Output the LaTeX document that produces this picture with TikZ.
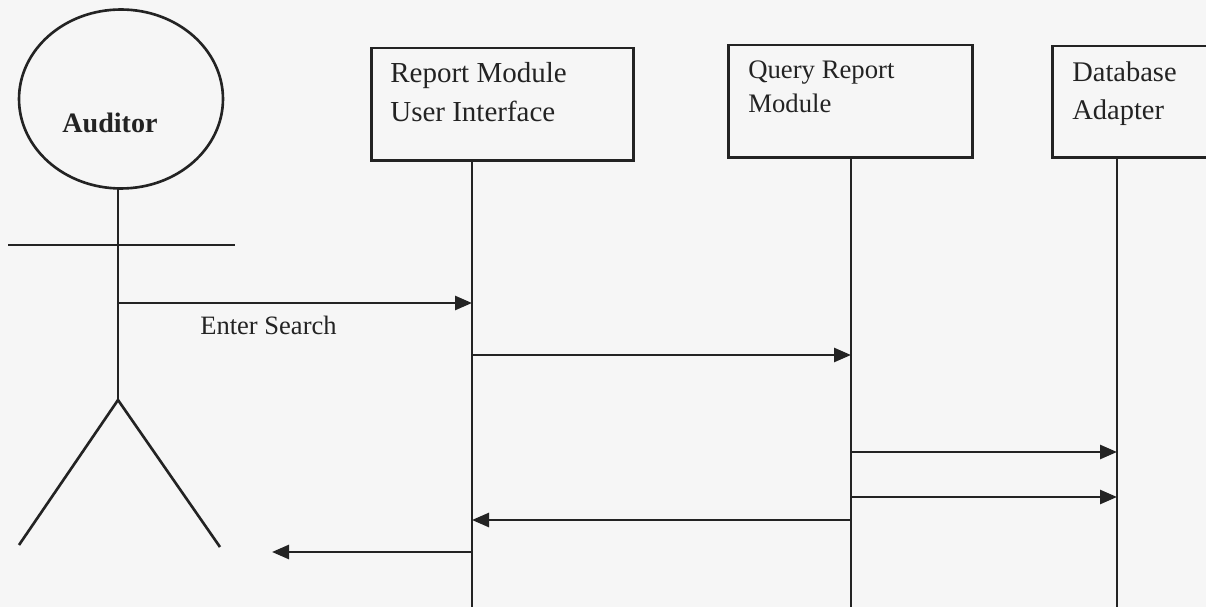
\documentclass[tikz,border=0pt]{standalone}
\usepackage{fontspec}
\setmainfont{Liberation Serif}
\usetikzlibrary{arrows.meta,shapes.geometric}
\definecolor{bg}{RGB}{246,246,246}
\definecolor{ink}{RGB}{35,35,35}
\begin{document}
\begin{tikzpicture}[x=0.02cm,y=-0.02cm,
  line/.style={draw=ink,line width=1.5pt},
  box/.style={draw=ink,line width=1.7pt,rectangle,inner sep=0pt},
  lbl/.style={anchor=base west,inner sep=0pt,text=ink,font=\fontsize{16.5}{20}\selectfont},
  msg/.style={draw=ink,line width=1.5pt,-{Triangle[length=0.34cm,width=0.28cm]}}]
\useasboundingbox (0,0) rectangle (1206,607);
\fill[bg] (0,0) rectangle (1206,607);
\clip (0,0) rectangle (1206,607);
% actor
\node[ellipse,draw=ink,line width=1.5pt,minimum width=4.08cm,minimum height=3.58cm,inner sep=0pt] (head) at (121,99) {};
\node[anchor=base,inner sep=0pt,text=ink,font=\fontsize{16}{19}\selectfont\bfseries] (auditor) at (110,133) {Auditor};
\coordinate (neck) at (118,188);
\coordinate (hip) at (118,400);
\coordinate (armL) at (8,245);
\coordinate (armR) at (235,245);
\coordinate (footL) at (19,545);
\coordinate (footR) at (220,547);
\draw[line] (neck) -- (hip);
\draw[line] (armL) -- (armR);
\draw[line] (footL) -- (hip) -- (footR);
% boxes
\node[box,minimum width=5.26cm,minimum height=2.26cm] (rmui) at (502.5,104.5) {};
\node[box,minimum width=4.9cm,minimum height=2.26cm] (qrm) at (850.5,101.5) {};
\node[box,minimum width=3.8cm,minimum height=2.24cm] (dba) at (1147,102) {};
\node[lbl] (t1a) at (390,83) {Report Module};
\node[lbl] (t1b) at (390,122) {User Interface};
\node[lbl,font=\fontsize{15.2}{18}\selectfont] (t2a) at (748,79) {Query Report};
\node[lbl,font=\fontsize{15.2}{18}\selectfont] (t2b) at (748,113) {Module};
\node[lbl,font=\fontsize{16.2}{19}\selectfont] (t3a) at (1072,82) {Database};
\node[lbl,font=\fontsize{16.2}{19}\selectfont] (t3b) at (1072,120) {Adapter};
% lifelines
\coordinate (l1top) at (472,161);
\coordinate (l1bot) at (472,610);
\coordinate (l2top) at (851,158);
\coordinate (l2bot) at (851,610);
\coordinate (l3top) at (1117,158);
\coordinate (l3bot) at (1117,610);
\draw[line] (l1top) -- (l1bot);
\draw[line] (l2top) -- (l2bot);
\draw[line] (l3top) -- (l3bot);
% message points
\coordinate (a0) at (118,303);
\coordinate (a1) at (472,303);
\coordinate (b1) at (472,355);
\coordinate (b2) at (851,355);
\coordinate (c2) at (851,452);
\coordinate (c3) at (1117,452);
\coordinate (d2) at (851,497);
\coordinate (d3) at (1117,497);
\coordinate (e2) at (851,520);
\coordinate (e1) at (472,520);
\coordinate (f1) at (472,552);
\coordinate (f0) at (272,552);
\draw[msg] (a0) -- (a1);
\draw[msg] (b1) -- (b2);
\draw[msg] (c2) -- (c3);
\draw[msg] (d2) -- (d3);
\draw[msg] (e2) -- (e1);
\draw[msg] (f1) -- (f0);
\node[lbl,font=\fontsize{15.1}{18}\selectfont] (es) at (200,335) {Enter Search};
\end{tikzpicture}
\end{document}
